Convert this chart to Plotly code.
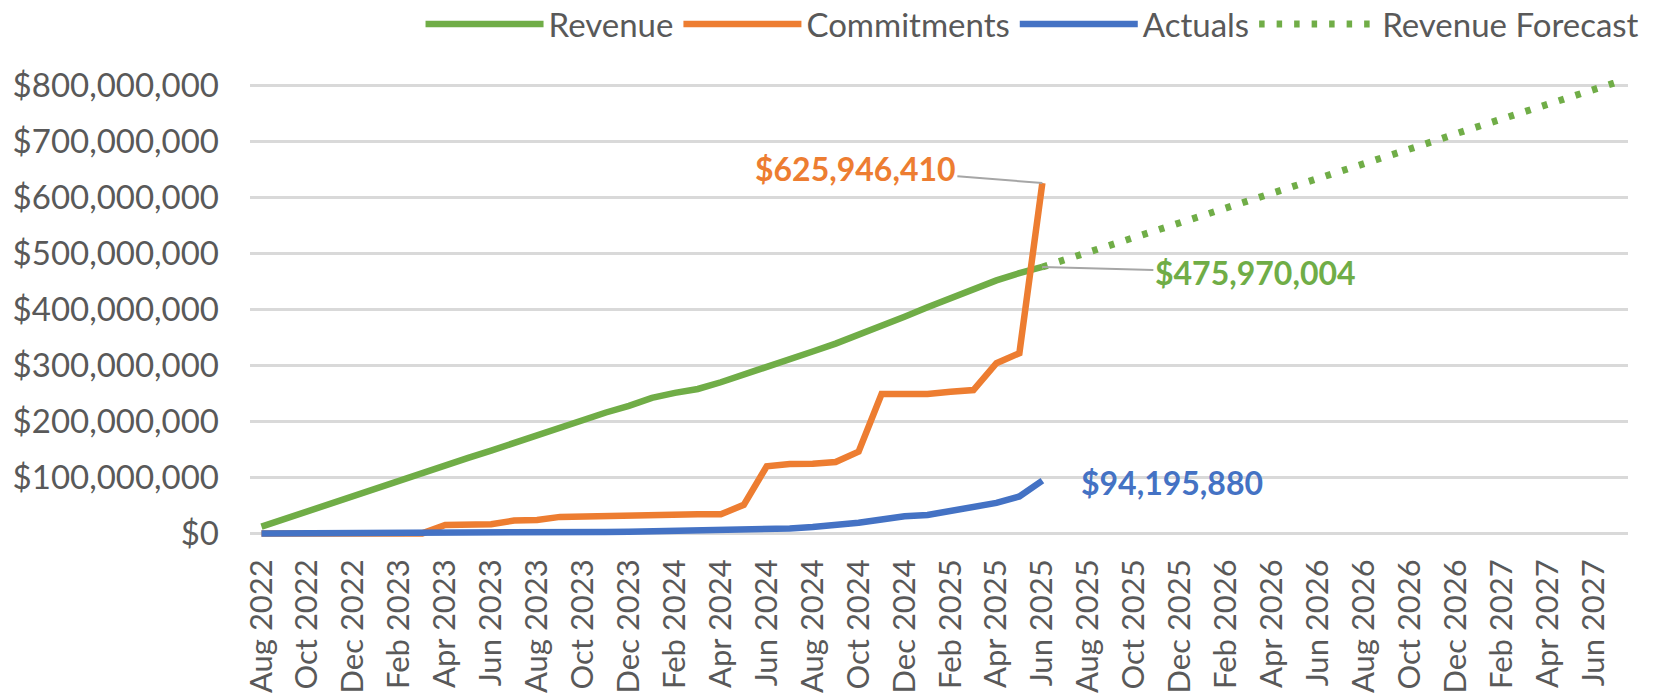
import pandas as pd
import plotly.graph_objects as go

# ---- data ----
months = list(pd.date_range("2022-08-01", periods=60, freq="MS").strftime("%b %Y"))
tick_labels = months[::2]

# values in millions of dollars
revenue_m = [12, 26, 39, 53, 66, 80, 94, 108, 121, 135, 148, 162, 176, 190, 203,
             216, 228, 242, 251, 258, 270, 283, 297, 311, 325, 339, 354, 370, 387,
             404, 421, 437, 452, 465, 475.970004]
commitments_m = [0, 0, 0, 0, 0, 0, 0, 0, 15, 15, 16.5, 23, 24, 29.5, 30.5, 32, 33,
                 33.5, 34, 34, 34, 51, 120, 124, 124.5, 127.5, 146, 249, 249, 249,
                 253, 256, 304, 322, 625.94641]
actuals_m = [0, 0, 0, 0, 0, 0, 0, 0.3, 0.5, 0.8, 1.0, 1.3, 1.7, 2.0, 2.3, 2.6, 3.0,
             3.5, 4.0, 4.3, 4.8, 5.6, 7.7, 8.9, 11.5, 15, 19, 25, 30.5, 33, 41, 47,
             54.5, 66, 94.19588]
forecast_m = [475.970004, 489, 502, 515, 529, 542, 555, 568, 582, 595, 608, 621, 634,
              648, 661, 674, 687, 700, 714, 727, 740, 753, 766, 780, 793, 806]

hist_months = months[:len(revenue_m)]
forecast_months = months[len(revenue_m) - 1:len(revenue_m) - 1 + len(forecast_m)]

revenue = [v * 1e6 for v in revenue_m]
commitments = [v * 1e6 for v in commitments_m]
actuals = [v * 1e6 for v in actuals_m]
forecast = [v * 1e6 for v in forecast_m]

GREEN = "#70AD47"
ORANGE = "#ED7D31"
BLUE = "#4472C4"
TXT = "#595959"
FONT = "Lato, 'Open Sans', sans-serif"

fig = go.Figure()
fig.add_trace(go.Scatter(x=hist_months, y=revenue, name="Revenue", mode="lines",
                         line=dict(color=GREEN, width=6.5)))
fig.add_trace(go.Scatter(x=hist_months, y=commitments, name="Commitments", mode="lines",
                         line=dict(color=ORANGE, width=6.5)))
fig.add_trace(go.Scatter(x=hist_months, y=actuals, name="Actuals", mode="lines",
                         line=dict(color=BLUE, width=6.5)))
fig.add_trace(go.Scatter(x=forecast_months, y=forecast, name="Revenue Forecast", mode="lines",
                         line=dict(color=GREEN, width=7, dash="5.5px,12px")))

last = hist_months[-1]
fig.add_annotation(x=last, y=commitments[-1], xref="x", yref="y",
                   text="<b>$625,946,410</b>", showarrow=True, arrowhead=0,
                   arrowcolor="#A6A6A6", arrowwidth=2, ax=-187, ay=-15,
                   font=dict(family=FONT, size=32, color=ORANGE))
fig.add_annotation(x=last, y=revenue[-1], xref="x", yref="y",
                   text="<b>$475,970,004</b>", showarrow=True, arrowhead=0,
                   arrowcolor="#A6A6A6", arrowwidth=2, ax=213, ay=6,
                   font=dict(family=FONT, size=32, color=GREEN))
fig.add_annotation(x=last, y=actuals[-1], xref="x", yref="y",
                   text="<b>$94,195,880</b>", showarrow=False,
                   xshift=130, yshift=-2,
                   font=dict(family=FONT, size=32, color=BLUE))

# the page adds an 8px body margin, so the figure is 8px smaller on each side
fig.update_layout(
    width=1659, height=690,
    margin=dict(l=242, r=39, t=72, b=159, autoexpand=False),
    paper_bgcolor="white", plot_bgcolor="white",
    font=dict(family=FONT, size=32, color=TXT),
    showlegend=True,
    legend=dict(orientation="h", x=1.012, xanchor="right", y=1.122, yanchor="middle",
                font=dict(family=FONT, size=33, color=TXT), bgcolor="rgba(0,0,0,0)",
                itemwidth=118, tracegroupgap=0),
)
fig.update_xaxes(type="category", categoryorder="array", categoryarray=months,
                 range=[-0.5, 59.5], tickmode="array", tickvals=tick_labels,
                 ticktext=tick_labels, tickangle=-90, showgrid=False, zeroline=False,
                 showline=False, ticks="", ticklabelstandoff=13,
                 tickfont=dict(family=FONT, size=31, color=TXT))
fig.update_yaxes(range=[-1e7, 8.1e8], dtick=1e8, tick0=0, tickprefix="$", tickformat=",",
                 showgrid=True, gridcolor="#D9D9D9", gridwidth=2.5, zeroline=False,
                 showline=False, ticks="", ticklabelstandoff=30,
                 tickfont=dict(family=FONT, size=33, color=TXT))

fig.write_html("out.html")
